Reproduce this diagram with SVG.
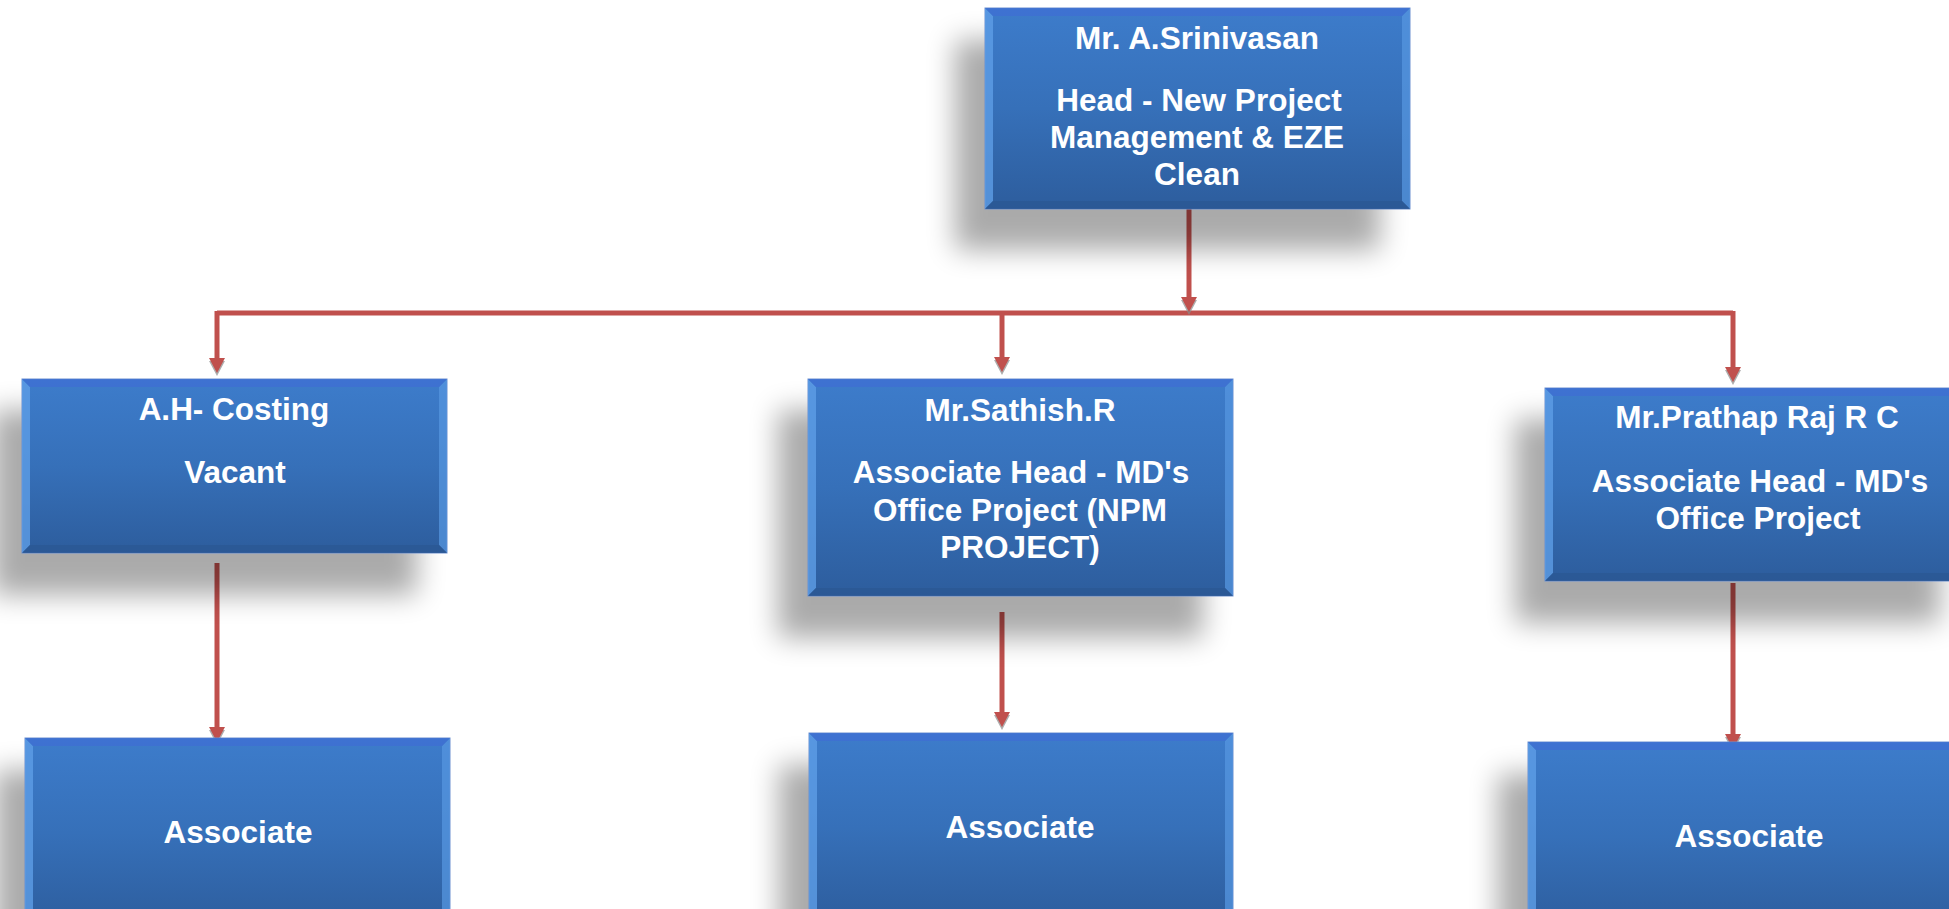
<svg xmlns="http://www.w3.org/2000/svg" width="1949" height="909" viewBox="0 0 1949 909">
<defs>
<linearGradient id="boxg" x1="0" y1="0" x2="0" y2="1">
<stop offset="0" stop-color="#3d7ccb"/>
<stop offset="0.5" stop-color="#3670b9"/>
<stop offset="1" stop-color="#2d5d9d"/>
</linearGradient>
<filter id="sh" x="-30%" y="-30%" width="160%" height="170%">
<feGaussianBlur stdDeviation="14"/>
</filter>
<filter id="lsh" x="-5%" y="-50%" width="110%" height="200%">
<feGaussianBlur stdDeviation="1"/>
</filter>
<marker id="arr" markerWidth="8" markerHeight="8" refX="4" refY="6" orient="auto" markerUnits="userSpaceOnUse" viewBox="0 0 8 8">
<path d="M0,0 L8,0 L4,8 Z" fill="#c0504d"/>
</marker>
</defs>
<style>
.shadow{fill:#000;opacity:0.33;filter:url(#sh)}
.box{fill:url(#boxg);stroke:#6d8fd0;stroke-width:1}
.bl{fill:#5e9ee6;opacity:0.8}
.br{fill:#5595df;opacity:0.75}
.bt{fill:#3f6fd2;opacity:0.8}
.bb{fill:#2a5793;opacity:0.8}
.t{font-family:"Liberation Sans",Arial,sans-serif;font-weight:bold;font-size:31.5px;fill:#fff;text-anchor:middle}
.c{stroke:#c0504d;stroke-width:5;fill:none}
.cs{stroke:#9a9a9a;stroke-width:5;fill:none;opacity:0.7;filter:url(#lsh)}
.ah{fill:#c0504d}
.ahs{fill:#8a8a8a;opacity:0.7}
</style>

<g id="connectors">
<!-- shadows -->
<path class="cs" d="M1190,211 V310"/>
<path class="cs" d="M217,317 H1733"/>
<path class="cs" d="M217,316 V366"/>
<path class="cs" d="M1002,316 V365"/>
<path class="cs" d="M1733,316 V375"/>
<path class="cs" d="M217,565 V735"/>
<path class="cs" d="M1002,614 V723"/>
<path class="cs" d="M1733,585 V742"/>
<!-- lines -->
<path class="c" d="M1189,209 V300"/>
<path class="c" d="M217,313 H1733"/>
<path class="c" d="M217,311 V360"/>
<path class="c" d="M1002,311 V359"/>
<path class="c" d="M1733,311 V369"/>
<path class="c" d="M217,563 V729"/>
<path class="c" d="M1002,612 V714"/>
<path class="c" d="M1733,583 V736"/>
<!-- arrowheads -->
<path class="ahs" d="M1181,300 L1197,300 L1189,315 Z"/>
<path class="ah" d="M1181,297 L1197,297 L1189,312 Z"/>
<path class="ahs" d="M209,361 L225,361 L217,376 Z"/>
<path class="ah" d="M209,358 L225,358 L217,373 Z"/>
<path class="ahs" d="M994,360 L1010,360 L1002,375 Z"/>
<path class="ah" d="M994,357 L1010,357 L1002,372 Z"/>
<path class="ahs" d="M1725,370 L1741,370 L1733,385 Z"/>
<path class="ah" d="M1725,367 L1741,367 L1733,382 Z"/>
<path class="ahs" d="M209,730 L225,730 L217,745 Z"/>
<path class="ah" d="M209,727 L225,727 L217,742 Z"/>
<path class="ahs" d="M994,715 L1010,715 L1002,730 Z"/>
<path class="ah" d="M994,712 L1010,712 L1002,727 Z"/>
<path class="ahs" d="M1725,737 L1741,737 L1733,752 Z"/>
<path class="ah" d="M1725,734 L1741,734 L1733,749 Z"/>
</g>

<g id="node-head">
<rect class="shadow" x="955" y="40" width="425" height="210"/>
<rect class="box" x="985" y="8" width="425" height="201"/>
<polygon class="bl" points="985,8 993,16 993,201 985,209"/>
<polygon class="br" points="1410,8 1402,16 1402,201 1410,209"/>
<polygon class="bt" points="985,8 1410,8 1402,16 993,16"/>
<polygon class="bb" points="985,209 1410,209 1402,201 993,201"/>
<text class="t" x="1197" y="49">Mr. A.Srinivasan</text>
<text class="t" x="1199" y="111">Head - New Project</text>
<text class="t" x="1197" y="148">Management &amp; EZE</text>
<text class="t" x="1197" y="185">Clean</text>
</g>

<g id="node-costing">
<rect class="shadow" x="-8" y="410" width="425" height="185"/>
<rect class="box" x="22" y="379" width="425" height="174"/>
<polygon class="bl" points="22,379 30,387 30,545 22,553"/>
<polygon class="br" points="447,379 439,387 439,545 447,553"/>
<polygon class="bt" points="22,379 447,379 439,387 30,387"/>
<polygon class="bb" points="22,553 447,553 439,545 30,545"/>
<text class="t" x="234" y="420">A.H- Costing</text>
<text class="t" x="235" y="483">Vacant</text>
</g>

<g id="node-sathish">
<rect class="shadow" x="778" y="410" width="425" height="228"/>
<rect class="box" x="808" y="379" width="425" height="217"/>
<polygon class="bl" points="808,379 816,387 816,588 808,596"/>
<polygon class="br" points="1233,379 1225,387 1225,588 1233,596"/>
<polygon class="bt" points="808,379 1233,379 1225,387 816,387"/>
<polygon class="bb" points="808,596 1233,596 1225,588 816,588"/>
<text class="t" x="1020" y="421">Mr.Sathish.R</text>
<text class="t" x="1021" y="483">Associate Head - MD's</text>
<text class="t" x="1020" y="521">Office Project (NPM</text>
<text class="t" x="1020" y="558">PROJECT)</text>
</g>

<g id="node-prathap">
<rect class="shadow" x="1515" y="419" width="425" height="204"/>
<rect class="box" x="1545" y="388" width="425" height="193"/>
<polygon class="bl" points="1545,388 1553,396 1553,573 1545,581"/>
<polygon class="bt" points="1545,388 1970,388 1962,396 1553,396"/>
<polygon class="bb" points="1545,581 1970,581 1962,573 1553,573"/>
<text class="t" x="1757" y="428">Mr.Prathap Raj R C</text>
<text class="t" x="1760" y="492">Associate Head - MD's</text>
<text class="t" x="1758" y="529">Office Project</text>
</g>

<g id="node-assoc-1">
<rect class="shadow" x="-5" y="770" width="425" height="200"/>
<rect class="box" x="25" y="738" width="425" height="190"/>
<polygon class="bl" points="25,738 33,746 33,928 25,928"/>
<polygon class="br" points="450,738 442,746 442,928 450,928"/>
<polygon class="bt" points="25,738 450,738 442,746 33,746"/>
<text class="t" x="238" y="843">Associate</text>
</g>

<g id="node-assoc-2">
<rect class="shadow" x="779" y="765" width="425" height="200"/>
<rect class="box" x="809" y="733" width="424" height="190"/>
<polygon class="bl" points="809,733 817,741 817,923 809,923"/>
<polygon class="br" points="1233,733 1225,741 1225,923 1233,923"/>
<polygon class="bt" points="809,733 1233,733 1225,741 817,741"/>
<text class="t" x="1020" y="838">Associate</text>
</g>

<g id="node-assoc-3">
<rect class="shadow" x="1498" y="774" width="440" height="200"/>
<rect class="box" x="1528" y="742" width="440" height="190"/>
<polygon class="bl" points="1528,742 1536,750 1536,932 1528,932"/>
<polygon class="bt" points="1528,742 1968,742 1960,750 1536,750"/>
<text class="t" x="1749" y="847">Associate</text>
</g>
</svg>
